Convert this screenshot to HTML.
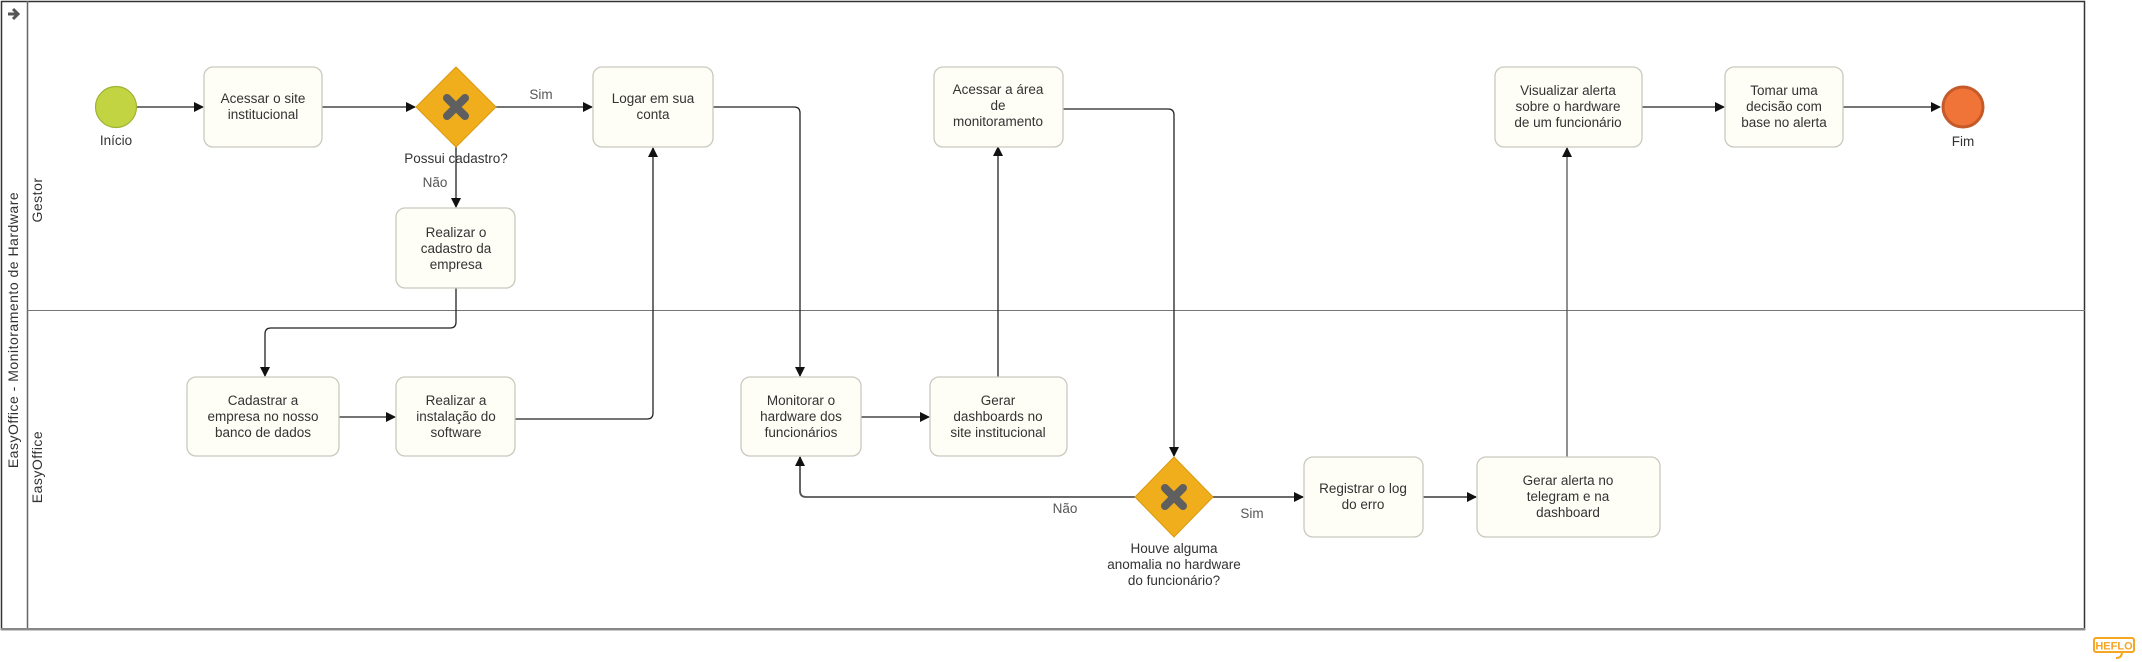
<!DOCTYPE html>
<html><head><meta charset="utf-8"><style>
html,body{margin:0;padding:0;background:#fff;}
svg{display:block;font-family:"Liberation Sans",sans-serif;}
.t{font-size:13.5px;fill:#333;text-anchor:middle;}
.lbl{font-size:13.5px;fill:#555;text-anchor:middle;}
.box{fill:#fefef6;stroke:#c9c9c0;stroke-width:1.3;}
.ln{fill:none;stroke:#222;stroke-width:1.3;}
</style></head><body>
<svg width="2142" height="662" viewBox="0 0 2142 662" xmlns="http://www.w3.org/2000/svg">
<defs><marker id="a" markerWidth="10" markerHeight="10" refX="9" refY="5" orient="auto" markerUnits="userSpaceOnUse"><path d="M0,0 L10,5 L0,10 z" fill="#111"/></marker></defs>
<!-- pool -->
<rect x="1.5" y="1.5" width="2083" height="628" fill="#fff" stroke="#333" stroke-width="1.5"/>
<line x1="27.5" y1="1" x2="27.5" y2="630" stroke="#666" stroke-width="1.5"/>
<line x1="27" y1="310.5" x2="2085" y2="310.5" stroke="#777" stroke-width="1"/>
<line x1="1" y1="629" x2="2085" y2="629" stroke="#888" stroke-width="2"/>
<path d="M8,14 H17 M13,9 L18,14 L13,19" stroke="#555" stroke-width="3" fill="none"/>
<text transform="translate(18,330) rotate(-90)" font-size="14" fill="#333" text-anchor="middle" letter-spacing="0.5">EasyOffice - Monitoramento de Hardware</text>
<text transform="translate(42,200) rotate(-90)" font-size="14" fill="#333" text-anchor="middle" letter-spacing="0.5">Gestor</text>
<text transform="translate(42,467) rotate(-90)" font-size="14" fill="#333" text-anchor="middle" letter-spacing="0.5">EasyOffice</text>

<!-- connectors -->
<path class="ln" d="M137,107 H203" marker-end="url(#a)"/>
<path class="ln" d="M322,107 H415" marker-end="url(#a)"/>
<path class="ln" d="M496,107 H592" marker-end="url(#a)"/>
<path class="ln" d="M456,147 V207" marker-end="url(#a)"/>
<path class="ln" d="M456,288 V322 Q456,328 450,328 H271 Q265,328 265,334 V376" marker-end="url(#a)"/>
<path class="ln" d="M339,417 H395" marker-end="url(#a)"/>
<path class="ln" d="M515,419 H647 Q653,419 653,413 V148" marker-end="url(#a)"/>
<path class="ln" d="M713,107 H794 Q800,107 800,113 V376" marker-end="url(#a)"/>
<path class="ln" d="M861,417 H929" marker-end="url(#a)"/>
<path class="ln" d="M998,377 V147" marker-end="url(#a)"/>
<path class="ln" d="M1063,109 H1168 Q1174,109 1174,115 V456" marker-end="url(#a)"/>
<path class="ln" style="stroke:#555;stroke-width:1.8" d="M1135,497 H806 Q800,497 800,491 V457" marker-end="url(#a)"/>
<path class="ln" style="stroke:#555;stroke-width:1.8" d="M1213,497 H1303" marker-end="url(#a)"/>
<path class="ln" style="stroke:#555;stroke-width:1.8" d="M1423,497 H1476" marker-end="url(#a)"/>
<path class="ln" style="stroke:#555" d="M1567,457 V148" marker-end="url(#a)"/>
<path class="ln" d="M1642,107 H1724" marker-end="url(#a)"/>
<path class="ln" d="M1843,107 H1940" marker-end="url(#a)"/>

<!-- events -->
<circle cx="116" cy="107" r="20.5" fill="#c3d442" stroke="#9fb234" stroke-width="1.2"/>
<text class="t" x="116" y="145">Início</text>
<circle cx="1963" cy="107" r="20" fill="#f07338" stroke="#c65a2a" stroke-width="3"/>
<text class="t" x="1963" y="146">Fim</text>

<!-- gateways -->
<g>
<path d="M456,67 L496,107 L456,147 L416,107 z" fill="#f0ae1c" stroke="#d99a10" stroke-width="1"/>
<path d="M447,98 L465,116 M465,98 L447,116" stroke="#5f5f5f" stroke-width="8" stroke-linecap="round"/>
</g>
<text class="t" x="456" y="163">Possui cadastro?</text>
<text class="lbl" x="435" y="187">Não</text>
<text class="lbl" x="541" y="99">Sim</text>
<g>
<path d="M1174,457 L1213,497 L1174,537 L1135,497 z" fill="#f0ae1c" stroke="#d99a10" stroke-width="1"/>
<path d="M1165,488 L1183,506 M1183,488 L1165,506" stroke="#5f5f5f" stroke-width="8" stroke-linecap="round"/>
</g>
<text class="lbl" x="1065" y="513">Não</text>
<text class="lbl" x="1252" y="518">Sim</text>
<text class="t" x="1174" y="553">Houve alguma</text>
<text class="t" x="1174" y="569">anomalia no hardware</text>
<text class="t" x="1174" y="585">do funcionário?</text>

<!-- tasks -->
<rect class="box" x="204" y="67" width="118" height="80" rx="9"/>
<text class="t" x="263" y="103">Acessar o site</text><text class="t" x="263" y="119">institucional</text>

<rect class="box" x="593" y="67" width="120" height="80" rx="9"/>
<text class="t" x="653" y="103">Logar em sua</text><text class="t" x="653" y="119">conta</text>

<rect class="box" x="396" y="208" width="119" height="80" rx="9"/>
<text class="t" x="456" y="237">Realizar o</text><text class="t" x="456" y="253">cadastro da</text><text class="t" x="456" y="269">empresa</text>

<rect class="box" x="187" y="377" width="152" height="79" rx="9"/>
<text class="t" x="263" y="405">Cadastrar a</text><text class="t" x="263" y="421">empresa no nosso</text><text class="t" x="263" y="437">banco de dados</text>

<rect class="box" x="396" y="377" width="119" height="79" rx="9"/>
<text class="t" x="456" y="405">Realizar a</text><text class="t" x="456" y="421">instalação do</text><text class="t" x="456" y="437">software</text>

<rect class="box" x="741" y="377" width="120" height="79" rx="9"/>
<text class="t" x="801" y="405">Monitorar o</text><text class="t" x="801" y="421">hardware dos</text><text class="t" x="801" y="437">funcionários</text>

<rect class="box" x="930" y="377" width="137" height="79" rx="9"/>
<text class="t" x="998" y="405">Gerar</text><text class="t" x="998" y="421">dashboards no</text><text class="t" x="998" y="437">site institucional</text>

<rect class="box" x="934" y="67" width="129" height="80" rx="9"/>
<text class="t" x="998" y="94">Acessar a área</text><text class="t" x="998" y="110">de</text><text class="t" x="998" y="126">monitoramento</text>

<rect class="box" x="1304" y="457" width="119" height="80" rx="9"/>
<text class="t" x="1363" y="493">Registrar o log</text><text class="t" x="1363" y="509">do erro</text>

<rect class="box" x="1477" y="457" width="183" height="80" rx="9"/>
<text class="t" x="1568" y="485">Gerar alerta no</text><text class="t" x="1568" y="501">telegram e na</text><text class="t" x="1568" y="517">dashboard</text>

<rect class="box" x="1495" y="67" width="147" height="80" rx="9"/>
<text class="t" x="1568" y="95">Visualizar alerta</text><text class="t" x="1568" y="111">sobre o hardware</text><text class="t" x="1568" y="127">de um funcionário</text>

<rect class="box" x="1725" y="67" width="118" height="80" rx="9"/>
<text class="t" x="1784" y="95">Tomar uma</text><text class="t" x="1784" y="111">decisão com</text><text class="t" x="1784" y="127">base no alerta</text>

<!-- logo -->
<rect x="2094" y="638" width="40" height="14" rx="2" fill="none" stroke="#f5a623" stroke-width="2"/>
<text x="2114" y="649.5" font-size="11" font-weight="bold" fill="#f5a623" text-anchor="middle">HEFLO</text>
<path d="M2122,652 q0,6 -6,6" stroke="#f5a623" stroke-width="2" fill="none"/>
</svg>
</body></html>
